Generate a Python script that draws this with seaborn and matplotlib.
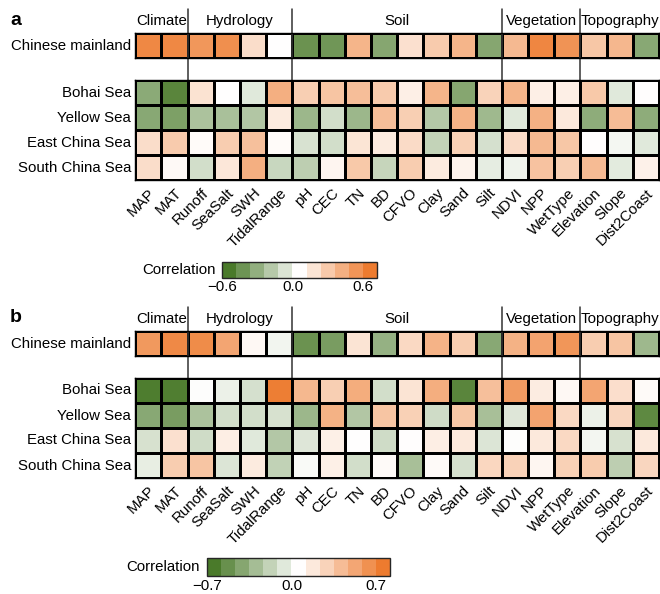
import matplotlib
matplotlib.use("Agg")
import matplotlib.pyplot as plt
import matplotlib as mpl
from matplotlib.colors import LinearSegmentedColormap, ListedColormap, BoundaryNorm
from matplotlib.transforms import blended_transform_factory
import seaborn as sns
import pandas as pd
import numpy as np

# Data
variables = ['MAP', 'MAT', 'Runoff', 'SeaSalt', 'SWH', 'TidalRange', 'pH', 'CEC', 'TN', 'BD',
             'CFVO', 'Clay', 'Sand', 'Silt', 'NDVI', 'NPP', 'WetType', 'Elevation', 'Slope', 'Dist2Coast']
groups = ['Climate', 'Hydrology', 'Soil', 'Vegetation', 'Topography']
group_sizes = [2, 4, 8, 3, 3]
seas = ['Bohai Sea', 'Yellow Sea', 'East China Sea', 'South China Sea']

# panel a
mainland_a = [0.59, 0.59, 0.52, 0.56, 0.17, 0.00, -0.54, -0.52, 0.37, -0.44,
              0.15, 0.26, 0.37, -0.44, 0.35, 0.60, 0.54, 0.28, 0.36, -0.43]
bohai_a = [-0.42, -0.60, 0.14, 0.00, -0.11, 0.40, 0.24, 0.29, 0.32, 0.26,
           0.08, 0.37, -0.44, 0.22, 0.37, 0.08, 0.08, 0.27, -0.11, 0.01]
yellow_a = [-0.43, -0.47, -0.30, -0.31, -0.28, 0.10, -0.36, -0.16, -0.36, 0.32,
            0.24, -0.27, 0.38, -0.35, -0.11, 0.39, 0.11, -0.41, 0.33, -0.41]
east_a = [0.17, 0.26, 0.02, 0.25, 0.31, 0.02, -0.14, -0.16, 0.13, 0.10,
          0.18, -0.22, 0.23, -0.15, 0.18, 0.35, 0.28, 0.01, -0.04, -0.11]
south_a = [0.17, 0.03, -0.16, 0.12, 0.40, -0.20, -0.24, 0.05, 0.27, -0.21,
           0.25, 0.10, 0.06, -0.09, -0.06, 0.30, 0.24, 0.34, -0.10, 0.07]

# panel b
mainland_b = [0.59, 0.68, 0.67, 0.52, 0.04, -0.06, -0.63, -0.57, 0.16, -0.45,
              0.22, 0.44, 0.29, -0.50, 0.45, 0.53, 0.61, 0.29, 0.34, -0.41]
bohai_b = [-0.75, -0.74, -0.01, -0.08, -0.18, 0.75, 0.41, 0.28, 0.48, -0.19,
           0.16, 0.47, -0.70, 0.37, 0.58, 0.11, 0.04, 0.52, 0.19, 0.03]
yellow_b = [-0.50, -0.57, -0.35, -0.19, -0.19, -0.17, -0.42, 0.45, -0.33, 0.34,
            0.27, -0.20, 0.33, -0.37, -0.14, 0.53, 0.22, -0.08, 0.24, -0.68]
east_b = [-0.17, 0.18, -0.20, 0.10, -0.13, -0.32, -0.14, 0.09, 0.00, -0.20,
          0.01, 0.10, 0.13, -0.15, -0.01, 0.13, 0.22, -0.05, -0.17, 0.13]
south_b = [-0.10, 0.29, 0.34, -0.15, 0.12, -0.26, -0.03, 0.09, -0.19, 0.03,
           -0.37, 0.03, -0.18, 0.23, 0.26, 0.05, 0.27, 0.30, -0.28, 0.24]

cbar_ticks_a = [-0.6, 0.0, 0.6]
cbar_ticks_b = [-0.7, 0.0, 0.7]

# Style
sns.set_style("white")
plt.rcParams['font.family'] = ['Liberation Sans', 'DejaVu Sans']
plt.rcParams['text.color'] = 'black'
plt.rcParams['xtick.color'] = 'black'
plt.rcParams['ytick.color'] = 'black'
plt.rcParams['axes.labelcolor'] = 'black'
FS = 10.8

cmap = LinearSegmentedColormap.from_list('gwo', ['#4a7a2a', '#ffffff', '#ed7b2f'])

fig = plt.figure(figsize=(6.6, 5.94), dpi=100)
W, H = 660, 594


def px_axes(x0, y0, x1, y1):
    return fig.add_axes([x0 / W, 1 - y1 / H, (x1 - x0) / W, (y1 - y0) / H])


def draw_panel(letter, top_y, mainland, sea_rows, vlim, n_bins, ticks, cbar_box):
    x0, x1 = 135.3, 659
    ax_top = px_axes(x0, top_y, x1, top_y + 25)
    ax_sea = px_axes(x0, top_y + 47, x1, top_y + 147)

    df_top = pd.DataFrame([mainland], index=['Chinese mainland'], columns=variables)
    df_sea = pd.DataFrame(sea_rows, index=seas, columns=variables)

    for ax, df, show_x in [(ax_top, df_top, False), (ax_sea, df_sea, True)]:
        sns.heatmap(df, ax=ax, cmap=cmap, vmin=-vlim, vmax=vlim, cbar=False,
                    linewidths=1, linecolor='black',
                    xticklabels=show_x, yticklabels=True)
        for s in ax.spines.values():
            s.set_visible(True)
            s.set_linewidth(1)
            s.set_color('black')
        ax.tick_params(axis='y', length=0, pad=3, labelsize=FS, rotation=0)
        if show_x:
            ax.tick_params(axis='x', length=3, width=0.8, pad=1, labelsize=FS)
            plt.setp(ax.get_xticklabels(), rotation=45, ha='right', rotation_mode='anchor')
        else:
            ax.tick_params(axis='x', length=0)

    # group separators and headers
    trans = blended_transform_factory(ax_top.transData, fig.transFigure)
    y_line_top = 1 - (top_y - 24) / H
    y_line_bot = 1 - (top_y + 47) / H
    y_head = 1 - (top_y - 12) / H
    edges = np.cumsum([0] + group_sizes)
    for i, g in enumerate(groups):
        ax_top.text((edges[i] + edges[i + 1]) / 2, y_head, g, transform=trans,
                    ha='center', va='center', fontsize=FS)
    for e in edges[1:-1]:
        ax_top.plot([e, e], [y_line_top, y_line_bot], transform=trans, color='#333333',
                    lw=1.1, clip_on=False)

    fig.text(10 / W, 1 - (top_y - 13) / H, letter, fontsize=14, fontweight='bold',
             ha='left', va='center')

    # discrete colorbar
    step = ticks[-1] / ((n_bins - 1) / 2)
    bounds = ticks[0] + step * np.arange(n_bins + 1)
    colors = cmap(np.linspace(0, 1, n_bins))
    cax = px_axes(*cbar_box)
    cb = mpl.colorbar.ColorbarBase(cax, cmap=ListedColormap(colors),
                                   norm=BoundaryNorm(bounds, n_bins),
                                   orientation='horizontal', ticks=ticks, spacing='proportional')
    cb.minorticks_off()
    cb.set_ticklabels([f'{t:.1f}'.replace('-', '\u2212') for t in ticks])
    cb.outline.set_linewidth(1)
    cax.tick_params(which='both', length=0, pad=2, labelsize=FS)
    cax.text(-0.04, 0.5, 'Correlation', transform=cax.transAxes, ha='right', va='center',
             fontsize=FS)


draw_panel('a', 33.3, mainland_a, [bohai_a, yellow_a, east_a, south_a],
           0.66, 11, cbar_ticks_a, (222, 262, 377, 277.5))
draw_panel('b', 331, mainland_b, [bohai_b, yellow_b, east_b, south_b],
           0.77, 13, cbar_ticks_b, (207, 558, 390, 576))

fig.savefig('out.png', dpi=100)
